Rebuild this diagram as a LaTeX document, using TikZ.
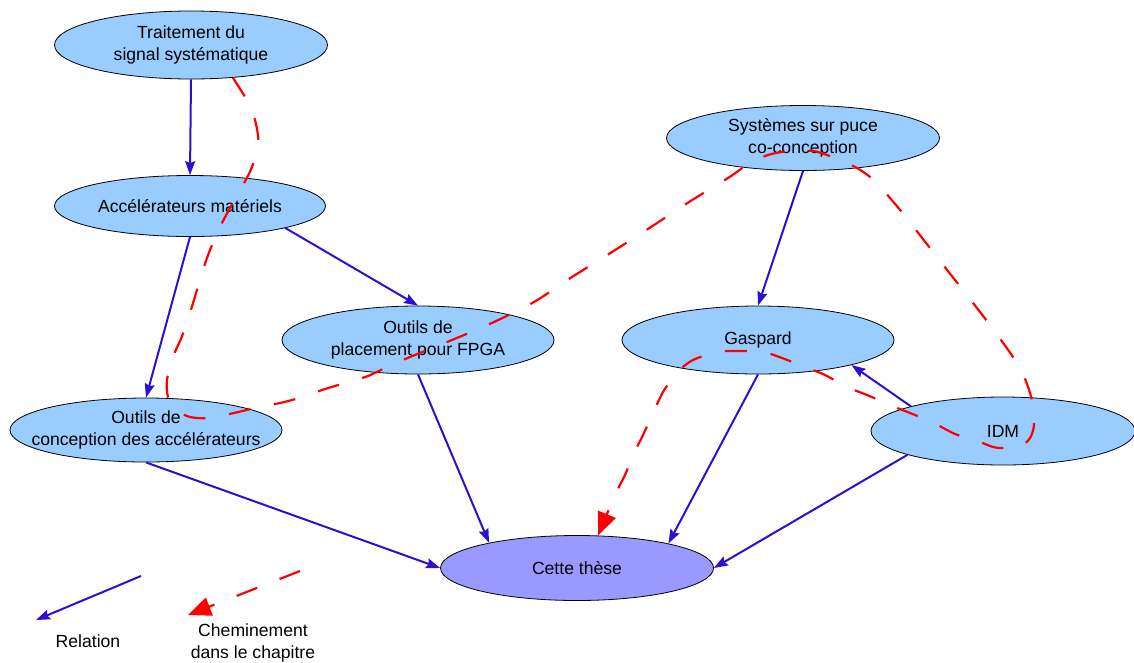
\documentclass[tikz,border=0pt]{standalone}
\usepackage{fontspec}
\setmainfont{Liberation Sans}
\usetikzlibrary{shapes.geometric,arrows.meta}
\definecolor{relblue}{HTML}{2A10D4}
\definecolor{nodefill}{HTML}{99CCFF}
\definecolor{thesefill}{HTML}{9999FF}
\definecolor{pathred}{HTML}{FF0000}
\tikzset{
  topic/.style={ellipse, draw=black, line width=0.8pt, fill=nodefill, inner sep=0pt,
    align=center, font=\fontsize{17.6}{22}\selectfont},
  relation/.style={draw=relblue, line width=2pt, -{Stealth[length=14pt,width=10pt,inset=2pt]}},
  chemin/.style={draw=pathred, line width=2.2pt, dash pattern=on 22pt off 24pt,
    -{Triangle[length=23pt,width=19pt]}},
  legendtext/.style={align=center, font=\fontsize{17.6}{22}\selectfont}
}
\begin{document}
\begin{tikzpicture}[x=1pt,y=-1pt]
\useasboundingbox (0,0) rectangle (1134,662);

\node[topic, minimum width=273pt, minimum height=68pt] (trait) at (191,45) {Traitement du\\signal systématique};
\node[topic, minimum width=271pt, minimum height=61pt] (accel) at (190,206) {Accélérateurs matériels};
\node[topic, minimum width=272pt, minimum height=68pt] (fpga) at (418,340) {Outils de\\placement pour FPGA};
\node[topic, inner xsep=-30pt, minimum width=272pt, minimum height=64pt] (outils) at (146,430) {Outils de\\conception des accélérateurs};
\node[topic, minimum width=273pt, minimum height=65pt] (soc) at (803,138) {Systèmes sur puce\\co-conception};
\node[topic, minimum width=272pt, minimum height=68pt] (gaspard) at (758,340) {Gaspard};
\node[topic, minimum width=264pt, minimum height=68pt] (idm) at (1003,431) {IDM};
\node[topic, fill=thesefill, minimum width=273pt, minimum height=65pt] (these) at (577,568) {Cette thèse};

% relations
\draw[relation] (trait.south) -- (accel.north);
\draw[relation] (accel.south) -- (outils.north);
\draw[relation] (accel.-13.5) -- (fpga.north);
\draw[relation] (fpga.south) -- (these.164);
\draw[relation] (outils.south) -- (these.west);
\draw[relation] (soc.south) -- (gaspard.north);
\draw[relation] (gaspard.south) -- (these.15);
\draw[relation] (idm.165.5) -- (gaspard.-15);
\draw[relation] (idm.194.5) -- (these.east);

% cheminement
\draw[chemin] plot[smooth, tension=0.5] coordinates {
 (trait.-38) (246.7,100) (255,120) (258.3,143) (252,167) (243,185) (230,208) (220,227)
 (210,250) (203,270) (190,313) (181.7,337) (173,357) (167,380) (168,397) (176,410)
 (190,417) (209,418) (234,413) (255,408) (280,403) (299,398) (322,390) (345,383)
 (368,376) (387,367) (410,357) (452,340) (494,322) (534,302) (572,277) (612,252)
 (651,227) (689,202) (728,178) (747,165) (768,155) (790,151) (813,151) (835,158)
 (857,168) (875,181) (890,198) (905,216) (933,252) (962,289) (990,325) (1017,363)
 (1027,384) (1033,405) (1034,425) (1030,438) (1020,447) (1005,448) (993,447)
 (975,440) (955,434) (932,422) (910,413) (890,405) (867,395) (847,387) (825,375)
 (805,367) (782,358) (763,352) (737,351) (717,352) (693,360) (677,372) (670,382)
 (663,392) (653,413) (643,435) (633,455) (625,475) (615,495) (these.57)};

% legend
\coordinate (relA) at (141,576);
\coordinate (relB) at (36,620);
\coordinate (chA) at (300,571);
\coordinate (chB) at (188,615);
\draw[relation] (relA) -- (relB);
\draw[chemin] (chA) -- (chB);
\node[legendtext] (relLabel) at (88,641) {Relation};
\node[legendtext] (chLabel) at (253,643) {Cheminement\\dans le chapitre};
\end{tikzpicture}
\end{document}
